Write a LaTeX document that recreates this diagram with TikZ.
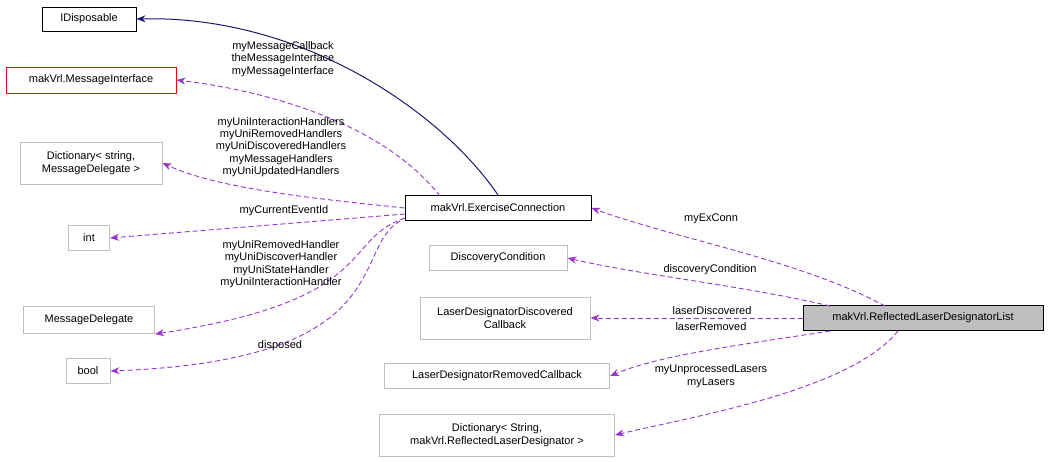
\documentclass[tikz,border=0pt]{standalone}
\usepackage{fontspec}
\setmainfont{Liberation Sans}
\usetikzlibrary{arrows.meta}
\definecolor{edgepurple}{HTML}{9A32CD}
\definecolor{edgenavy}{HTML}{191970}
\definecolor{boxgray}{HTML}{BFBFBF}
\begin{document}
\begin{tikzpicture}[x=1pt,y=-1pt,
  cls/.style = {draw=boxgray, fill=white, line width=1pt, inner sep=3pt, align=center, font=\fontsize{11}{12.5}\selectfont},
  solidcls/.style = {cls, draw=black},
  usage/.style = {draw=edgepurple, line width=0.9pt, dash pattern=on 5pt off 3pt, -{Stealth[length=9pt,width=7pt]}},
  inherit/.style = {draw=edgenavy, line width=1pt, -{Stealth[length=9pt,width=7pt]}},
  lbl/.style = {align=center, font=\fontsize{11}{12.3}\selectfont, inner sep=0pt}]
\useasboundingbox (0,0) rectangle (1048,461);
\node[solidcls, minimum width=94, minimum height=24] (idisp) at (89,19) {IDisposable};
\node[cls, draw=red, minimum width=170, minimum height=26] (msgif) at (91,80) {makVrl.MessageInterface};
\node[cls, minimum width=142, minimum height=42] (dictmsg) at (91,163) {Dictionary\textless{} string,\\ MessageDelegate \textgreater};
\node[cls, minimum width=41, minimum height=25] (int) at (89,238) {int};
\node[cls, minimum width=131, minimum height=27] (msgdel) at (89,320) {MessageDelegate};
\node[cls, minimum width=44, minimum height=25] (bool) at (88,371) {bool};
\node[solidcls, minimum width=186, minimum height=25] (exconn) at (498,208) {makVrl.ExerciseConnection};
\node[cls, minimum width=138, minimum height=25] (disccond) at (498,258) {DiscoveryCondition};
\node[cls, minimum width=170, minimum height=42] (discb) at (505,318) {LaserDesignatorDiscovered\\ Callback};
\node[cls, minimum width=225, minimum height=25] (remcb) at (497,376) {LaserDesignatorRemovedCallback};
\node[cls, minimum width=235, minimum height=42] (dictlas) at (497,435) {Dictionary\textless{} String,\\ makVrl.ReflectedLaserDesignator \textgreater};
\node[solidcls, fill=boxgray, minimum width=240, minimum height=25] (rldl) at (923,318) {makVrl.ReflectedLaserDesignatorList};
% exercise connection
\draw[inherit] (exconn.north) .. controls (440,110) and (300,15) .. (idisp.east);
\draw[usage] (440,196) .. controls (380,120) and (260,90) .. (msgif.east);
\draw[usage] (exconn.west) .. controls (330,200) and (220,190) .. (dictmsg.east);
\draw[usage] (405,214) -- (int.east);
\draw[usage] (405,218) .. controls (340,240) and (380,300) .. (msgdel.south east);
\draw[usage] (400,221) .. controls (350,250) and (400,360) .. (bool.east);
\node[lbl] (lmsgif) at (283,59) {myMessageCallback\\ theMessageInterface\\ myMessageInterface};
\node[lbl] (ldictmsg) at (281,147) {myUniInteractionHandlers\\ myUniRemovedHandlers\\ myUniDiscoveredHandlers\\ myMessageHandlers\\ myUniUpdatedHandlers};
\node[lbl] (lint) at (284,211) {myCurrentEventId};
\node[lbl] (lmsgdel) at (281,264) {myUniRemovedHandler\\ myUniDiscoverHandler\\ myUniStateHandler\\ myUniInteractionHandler};
\node[lbl] (lbool) at (280,346) {disposed};
% reflected list
\draw[usage] (885,306) .. controls (800,260) and (680,240) .. (exconn.east);
\draw[usage] (830,306) .. controls (740,285) and (640,275) .. (disccond.east);
\draw[usage] (rldl.west) -- (discb.east);
\draw[usage] (830,331) .. controls (740,345) and (660,355) .. (remcb.east);
\draw[usage] (898,331) .. controls (850,390) and (700,415) .. (dictlas.east);
\node[lbl] (lexconn) at (711,219) {myExConn};
\node[lbl] (ldisccond) at (710,270) {discoveryCondition};
\node[lbl] (ldiscb) at (712,311) {laserDiscovered};
\node[lbl] (lremcb) at (711,327) {laserRemoved};
\node[lbl] (ldictlas) at (711,376) {myUnprocessedLasers\\ myLasers};
\end{tikzpicture}
\end{document}
